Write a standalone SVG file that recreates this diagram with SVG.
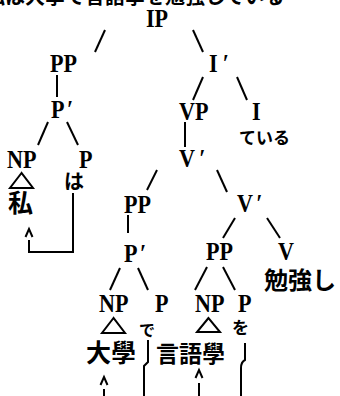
<svg xmlns="http://www.w3.org/2000/svg" width="340" height="396" viewBox="0 0 340 396">
<style>
.lab{font-family:"Liberation Serif","DejaVu Serif",serif;font-weight:bold;font-size:26px;fill:#000}
.jp{font-family:"Noto Sans CJK JP","Noto Sans CJK SC",sans-serif;font-weight:bold;fill:#000}
.ln{stroke:#000;stroke-width:2;fill:none;stroke-linecap:butt}
.tri{stroke:#000;stroke-width:2;fill:#fff}
</style>
<rect width="340" height="396" fill="#fff"/>
<text class="jp" x="-15" y="3.5" font-size="20">私は大學で言語學を勉強している</text>
<g id="connectors">
<line class="ln" x1="105" y1="30" x2="95" y2="52"/>
<line class="ln" x1="193" y1="30" x2="203" y2="52"/>
<line class="ln" x1="57" y1="75" x2="57" y2="97"/>
<line class="ln" x1="203" y1="77" x2="193" y2="100"/>
<line class="ln" x1="237" y1="77" x2="247" y2="100"/>
<line class="ln" x1="48" y1="122" x2="38" y2="145"/>
<line class="ln" x1="67" y1="122" x2="78" y2="145"/>
<line class="ln" x1="185" y1="122" x2="185" y2="147"/>
<line class="ln" x1="157" y1="170" x2="147" y2="190"/>
<line class="ln" x1="217" y1="170" x2="227" y2="192"/>
<line class="ln" x1="128" y1="215" x2="128" y2="233"/>
<line class="ln" x1="235" y1="218" x2="223" y2="238"/>
<line class="ln" x1="267" y1="218" x2="280" y2="238"/>
<line class="ln" x1="120" y1="268" x2="110" y2="290"/>
<line class="ln" x1="138" y1="268" x2="148" y2="290"/>
<line class="ln" x1="207" y1="267" x2="195" y2="290"/>
<line class="ln" x1="223" y1="267" x2="235" y2="290"/>
<path class="ln" d="M73,193 V252 H29 V240"/>
<path class="ln" d="M25.5,237 L29,229 L32.5,237"/>
<path class="ln" d="M148,340 V362 L144,366 V396"/>
<path class="ln" d="M100.5,385 L104,377 L107.5,385"/>
<line class="ln" x1="104" y1="389" x2="104" y2="396"/>
<path class="ln" d="M245,343 V360 Q241,362 241,368 V396"/>
<path class="ln" d="M195.5,378 L199,370 L202.5,378"/>
<line class="ln" x1="199" y1="383" x2="199" y2="396"/>
</g>
<g id="IP"><text class="lab" transform="translate(146 27) scale(.85 1)">IP</text></g>
<g id="PP1"><text class="lab" transform="translate(50 72) scale(.85 1)">PP</text></g>
<g id="Ibar"><text class="lab" transform="translate(209 72) scale(.85 1)">I<tspan dx="6">′</tspan></text></g>
<g id="Pbar1"><text class="lab" transform="translate(51 118) scale(.85 1)">P<tspan dx="3">′</tspan></text></g>
<g id="NP1"><text class="lab" transform="translate(7 168) scale(.85 1)">NP</text><polygon class="tri" points="21.5,173 10,188 33,188"/><text class="jp" x="8" y="212" font-size="25">私</text></g>
<g id="P1"><text class="lab" transform="translate(79 168) scale(.85 1)">P</text><text class="jp" x="64" y="189" font-size="20">は</text></g>
<g id="VP"><text class="lab" transform="translate(179 120) scale(.85 1)">VP</text></g>
<g id="I"><text class="lab" transform="translate(252 120) scale(.85 1)">I</text><text class="jp" x="239" y="144" font-size="17">ている</text></g>
<g id="Vbar1"><text class="lab" transform="translate(179 167) scale(.85 1)">V<tspan dx="5">′</tspan></text></g>
<g id="PP2"><text class="lab" transform="translate(124 213) scale(.85 1)">PP</text></g>
<g id="Vbar2"><text class="lab" transform="translate(237 212) scale(.85 1)">V<tspan dx="4">′</tspan></text></g>
<g id="Pbar2"><text class="lab" transform="translate(124 262) scale(.85 1)">P<tspan dx="3">′</tspan></text></g>
<g id="PP3"><text class="lab" transform="translate(206 260) scale(.85 1)">PP</text></g>
<g id="V"><text class="lab" transform="translate(278 260) scale(.85 1)">V</text><text class="jp" x="264" y="289" font-size="24">勉強し</text></g>
<g id="NP2"><text class="lab" transform="translate(99 312) scale(.85 1)">NP</text><polygon class="tri" points="113.5,318 102,333 125,333"/><text class="jp" x="86" y="362" font-size="25">大學</text></g>
<g id="P2"><text class="lab" transform="translate(155 312) scale(.85 1)">P</text><text class="jp" x="139" y="336" font-size="16">で</text></g>
<g id="NP3"><text class="lab" transform="translate(195 312) scale(.85 1)">NP</text><polygon class="tri" points="208.5,318 197,332 220,332"/><text class="jp" x="156" y="362" font-size="23">言語學</text></g>
<g id="P3"><text class="lab" transform="translate(238 312) scale(.85 1)">P</text><text class="jp" x="232" y="334" font-size="17">を</text></g>
</svg>
